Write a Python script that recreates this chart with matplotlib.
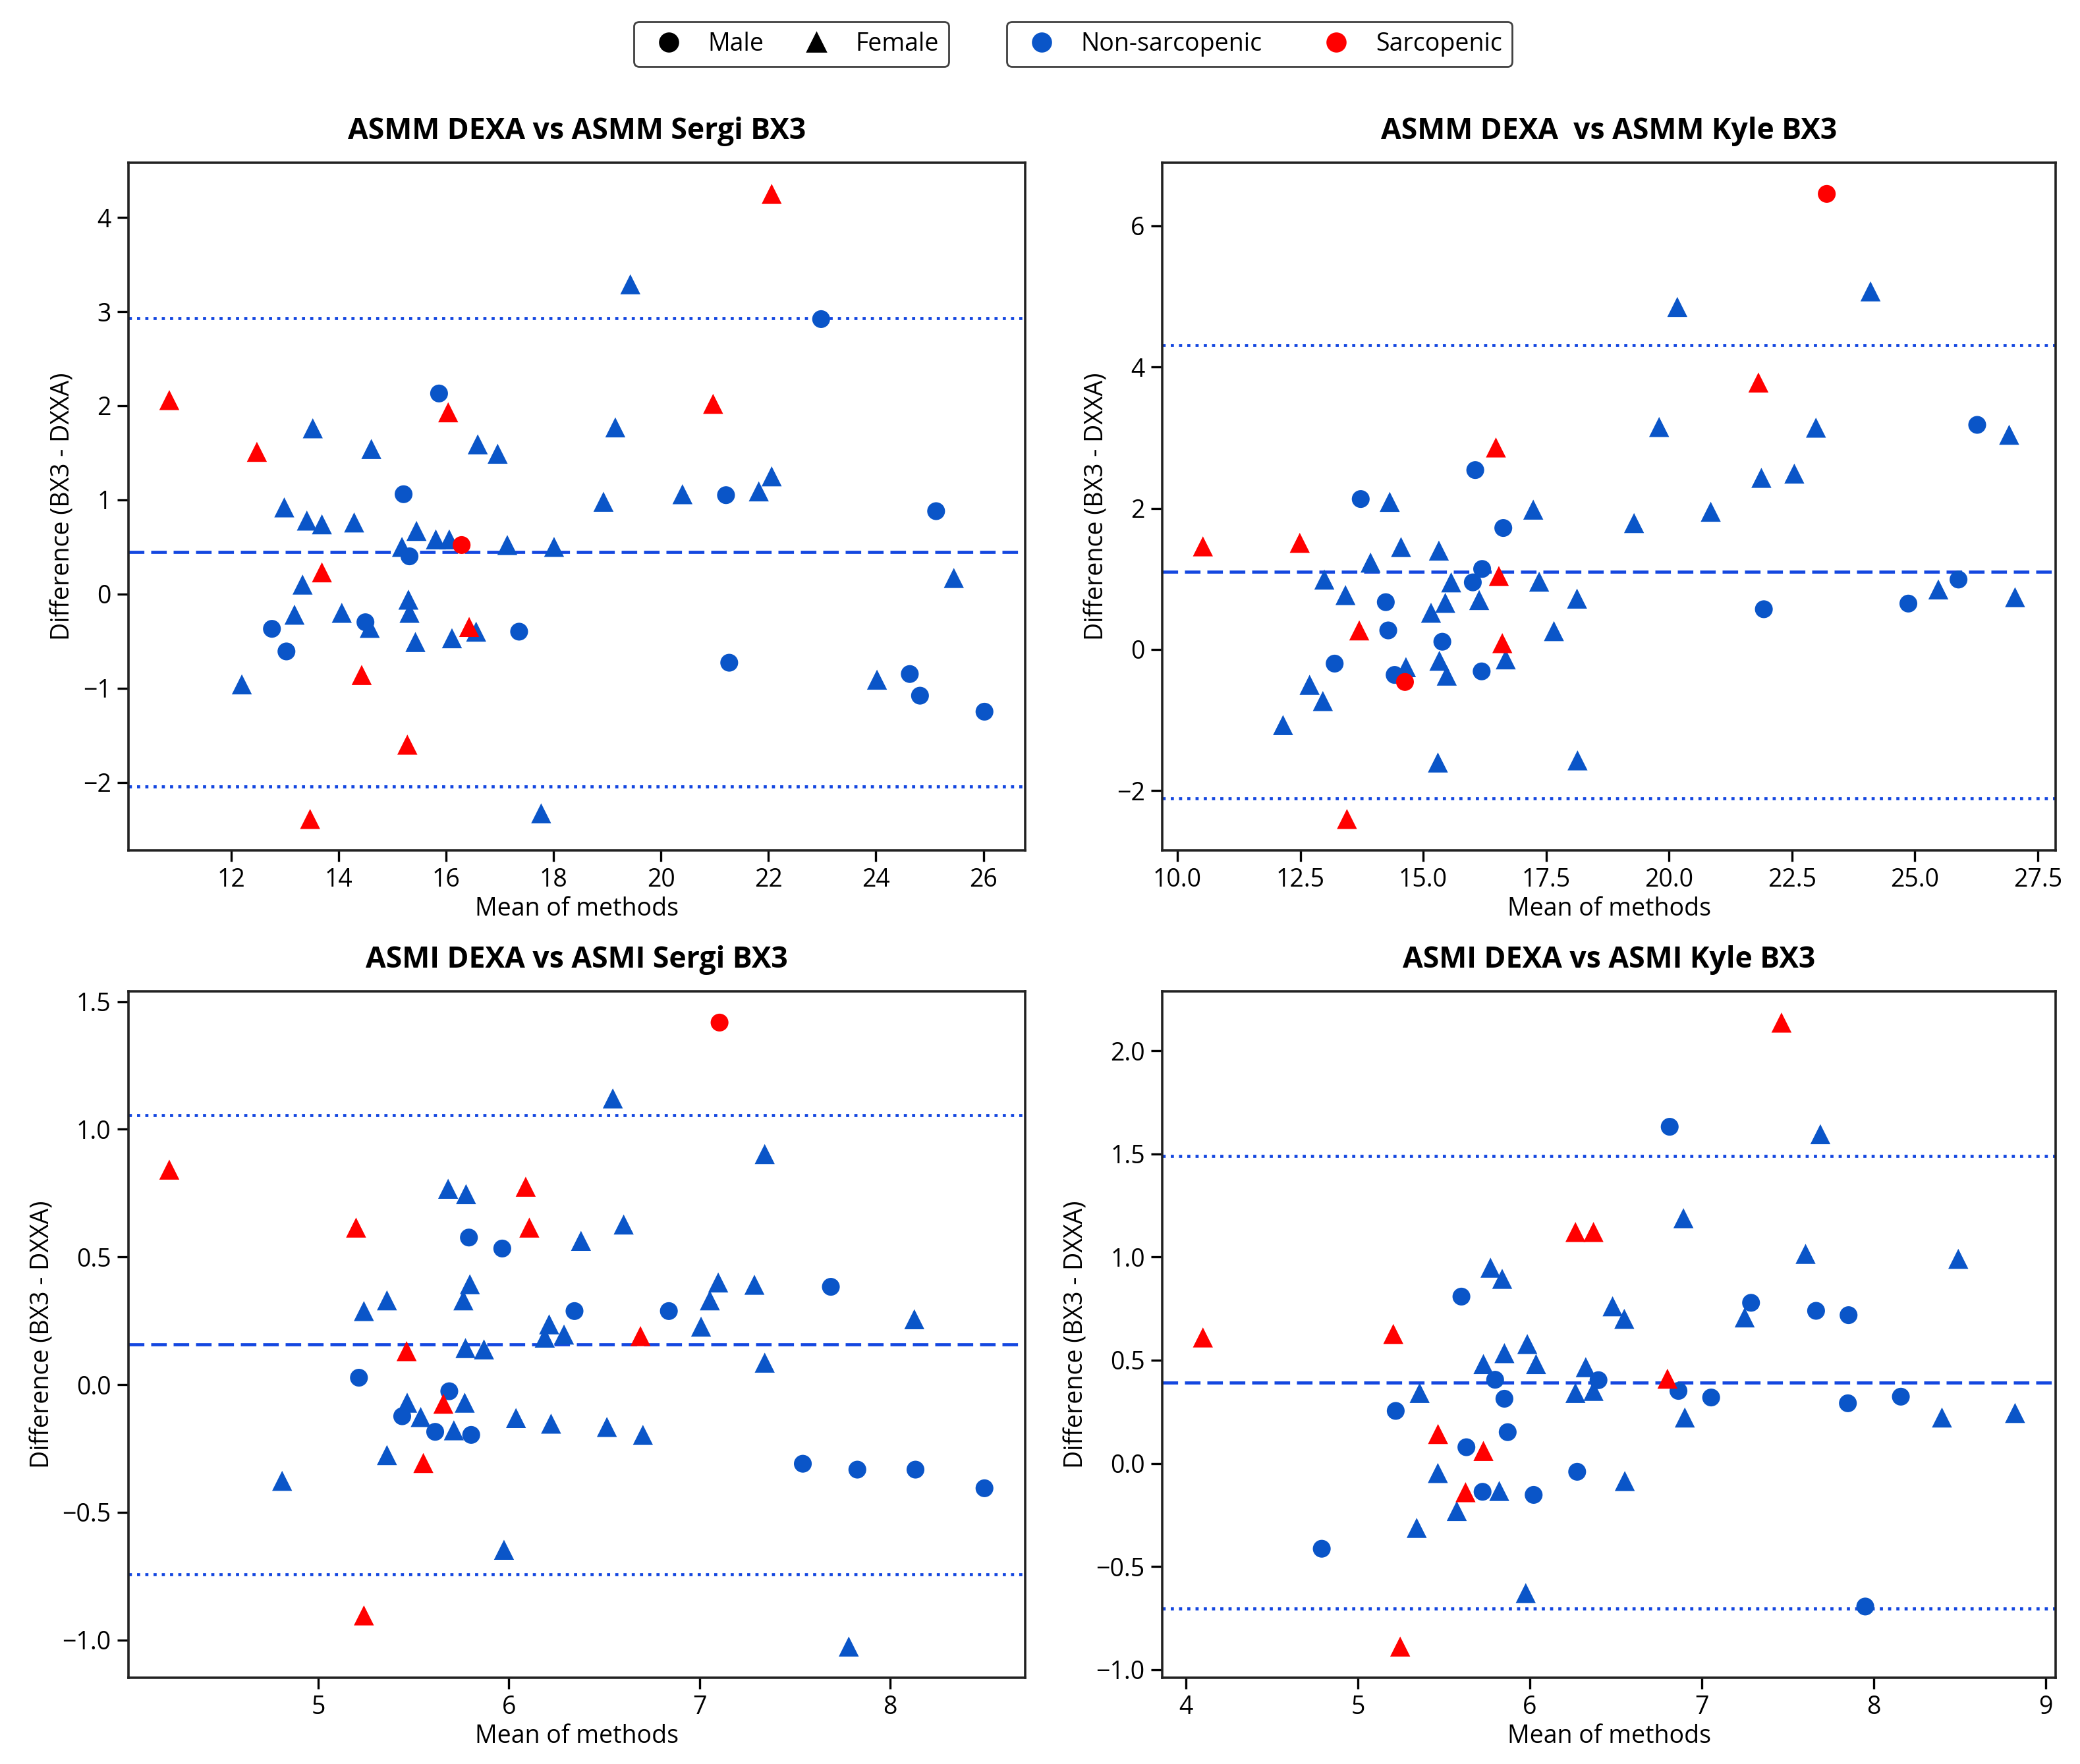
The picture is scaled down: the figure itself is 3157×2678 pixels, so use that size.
import matplotlib
matplotlib.use("Agg")
import matplotlib.pyplot as plt
from matplotlib.lines import Line2D

plt.rcParams['font.family'] = ['Open Sans', 'DejaVu Sans']

BLUE = '#0a55c8'
RED = '#ff0000'
LINE = '#1447e0'

# ---- ASMM DEXA vs ASMM Sergi BX3 ----
p1_mean = [10.85, 12.48, 16.04, 13.69, 14.43, 15.28, 13.47, 16.43, 22.06, 20.97,
           16.29,
           19.43, 13.52, 14.61, 16.59, 16.96, 19.15, 18.93, 12.99, 13.41, 13.69,
           14.29, 15.45, 15.18, 15.81, 16.06, 17.14, 18.01, 13.33, 13.18, 14.06,
           14.58, 15.30, 15.32, 15.43, 16.11, 16.56, 12.20, 17.77, 20.40, 21.82,
           22.06, 25.45, 24.02,
           15.87, 15.21, 15.32, 12.76, 13.03, 14.50, 17.36, 22.98, 21.21, 25.12,
           21.27, 24.63, 24.82, 26.02]
p1_diff = [2.06, 1.51, 1.93, 0.23, -0.86, -1.60, -2.39, -0.35, 4.25, 2.02,
           0.52,
           3.29, 1.76, 1.54, 1.59, 1.49, 1.77, 0.98, 0.92, 0.78, 0.74,
           0.76, 0.67, 0.50, 0.58, 0.58, 0.52, 0.50, 0.10, -0.22, -0.20,
           -0.36, -0.06, -0.20, -0.51, -0.47, -0.40, -0.96, -2.33, 1.06, 1.09,
           1.25, 0.17, -0.91,
           2.13, 1.06, 0.40, -0.37, -0.61, -0.30, -0.40, 2.92, 1.05, 0.88,
           -0.73, -0.85, -1.08, -1.25]
p1_sex = ['F'] * 10 + ['M'] + ['F'] * 33 + ['M'] * 14
p1_sarc = [1] * 11 + [0] * 47
p1_lines = [0.443, 2.93, -2.045]

# ---- ASMM DEXA vs ASMM Kyle BX3 ----
p2_mean = [10.52, 12.49, 13.70, 13.45, 16.48, 16.54, 16.61, 21.82,
           14.63, 23.21,
           13.73, 16.06, 16.63, 16.20, 16.01, 14.24, 14.29, 15.39, 13.20, 14.42,
           16.19, 26.27, 21.93, 24.87, 25.89,
           14.32, 17.24, 14.55, 15.32, 13.93, 12.99, 15.57, 17.36, 13.42, 15.45,
           16.14, 18.13, 15.16, 17.66, 15.33, 15.48, 14.65, 16.68, 12.69, 12.96,
           12.15, 15.30, 18.14, 24.10, 20.17, 19.80, 22.99, 26.92, 21.88, 22.55,
           20.85, 19.29, 25.48, 27.04]
p2_diff = [1.46, 1.51, 0.27, -2.40, 2.86, 1.04, 0.09, 3.78,
           -0.46, 6.45,
           2.13, 2.54, 1.72, 1.14, 0.95, 0.67, 0.27, 0.11, -0.20, -0.36,
           -0.31, 3.18, 0.57, 0.65, 0.99,
           2.09, 1.98, 1.45, 1.40, 1.23, 0.99, 0.95, 0.96, 0.77, 0.66,
           0.70, 0.72, 0.52, 0.26, -0.16, -0.37, -0.25, -0.14, -0.50, -0.73,
           -1.07, -1.60, -1.57, 5.07, 4.85, 3.15, 3.14, 3.04, 2.43, 2.49,
           1.95, 1.79, 0.85, 0.74]
p2_sex = ['F'] * 8 + ['M'] * 2 + ['M'] * 15 + ['F'] * 34
p2_sarc = [1] * 10 + [0] * 49
p2_lines = [1.10, 4.31, -2.107]

# ---- ASMI DEXA vs ASMI Sergi BX3 ----
p3_mean = [4.218, 5.198, 6.088, 6.107, 5.463, 5.656, 5.551, 5.239, 6.69,
           7.105,
           5.681, 5.775, 6.378, 5.795, 5.761, 5.360, 5.239, 6.211, 6.188, 6.289,
           5.772, 5.869, 5.466, 5.537, 5.768, 5.711, 6.037, 6.221, 5.360, 4.810,
           5.974, 6.545, 7.342, 6.602, 7.098, 7.288, 7.054, 8.127, 7.008, 7.342,
           6.514, 6.703, 7.783,
           5.965, 5.790, 6.344, 5.213, 5.687, 5.44, 5.613, 5.802, 7.689, 6.839,
           7.542, 7.828, 8.133, 8.495]
p3_diff = [0.842, 0.615, 0.775, 0.615, 0.131, -0.075, -0.307, -0.904, 0.19,
           1.418,
           0.767, 0.746, 0.563, 0.393, 0.330, 0.330, 0.288, 0.236, 0.184, 0.196,
           0.143, 0.138, -0.071, -0.127, -0.071, -0.179, -0.131, -0.153, -0.276, -0.377,
           -0.647, 1.121, 0.903, 0.627, 0.400, 0.391, 0.330, 0.256, 0.227, 0.086,
           -0.166, -0.197, -1.026,
           0.533, 0.576, 0.288, 0.027, -0.026, -0.124, -0.185, -0.197, 0.383, 0.288,
           -0.310, -0.333, -0.333, -0.406]
p3_sex = ['F'] * 9 + ['M'] + ['F'] * 33 + ['M'] * 14
p3_sarc = [1] * 10 + [0] * 47
p3_lines = [0.157, 1.056, -0.743]

# ---- ASMI DEXA vs ASMI Kyle BX3 ----
p4_mean = [4.099, 5.206, 6.265, 6.370, 5.466, 5.730, 5.626, 5.246, 7.463, 6.80,
           5.602, 5.220, 5.798, 5.852, 5.871, 5.631, 5.725, 6.275, 6.022, 4.790,
           6.399, 6.813, 7.286, 7.664, 7.853, 6.864, 7.054, 7.849, 8.157, 7.950,
           5.771, 5.839, 6.481, 5.985, 5.852, 6.036, 5.730, 6.325, 5.359, 6.265,
           6.370, 5.465, 5.822, 5.575, 5.342, 5.976, 7.689, 6.893, 7.603, 8.491,
           6.549, 7.249, 6.901, 8.396, 8.821, 6.552]
p4_diff = [0.610, 0.627, 1.121, 1.121, 0.142, 0.060, -0.140, -0.888, 2.136, 0.41,
           0.808, 0.254, 0.405, 0.313, 0.151, 0.078, -0.138, -0.041, -0.153, -0.414,
           0.403, 1.631, 0.778, 0.739, 0.718, 0.351, 0.319, 0.291, 0.323, -0.694,
           0.948, 0.894, 0.761, 0.578, 0.534, 0.481, 0.481, 0.466, 0.341, 0.341,
           0.351, -0.047, -0.134, -0.231, -0.313, -0.629, 1.595, 1.188, 1.015, 0.991,
           0.700, 0.707, 0.222, 0.222, 0.244, -0.086]
p4_sex = ['F'] * 10 + ['M'] * 20 + ['F'] * 26
p4_sarc = [1] * 10 + [0] * 46
p4_lines = [0.392, 1.489, -0.705]

titles = ["ASMM DEXA vs ASMM Sergi BX3", "ASMM DEXA  vs ASMM Kyle BX3",
          "ASMI DEXA vs ASMI Sergi BX3", "ASMI DEXA vs ASMI Kyle BX3"]
xticks = [[12, 14, 16, 18, 20, 22, 24, 26],
          [10.0, 12.5, 15.0, 17.5, 20.0, 22.5, 25.0, 27.5],
          [5, 6, 7, 8],
          [4, 5, 6, 7, 8, 9]]
yticks = [[-2, -1, 0, 1, 2, 3, 4],
          [-2, 0, 2, 4, 6],
          [-1.0, -0.5, 0.0, 0.5, 1.0, 1.5],
          [-1.0, -0.5, 0.0, 0.5, 1.0, 1.5, 2.0]]
xfmt = ['%d', '%.1f', '%d', '%d']
yfmt = ['%d', '%d', '%.1f', '%.1f']

panels = [(p1_mean, p1_diff, p1_sex, p1_sarc, p1_lines),
          (p2_mean, p2_diff, p2_sex, p2_sarc, p2_lines),
          (p3_mean, p3_diff, p3_sex, p3_sarc, p3_lines),
          (p4_mean, p4_diff, p4_sex, p4_sarc, p4_lines)]

boxes = [[0.0618, 0.518, 0.4311, 0.3898],
         [0.5588, 0.518, 0.4295, 0.3898],
         [0.0618, 0.0489, 0.4311, 0.3891],
         [0.5588, 0.0489, 0.4295, 0.3891]]

FS = 13.5
fig = plt.figure(figsize=(15.785, 13.39), dpi=200)

for i, (mx, dy, sex, sarc, lines) in enumerate(panels):
    ax = fig.add_axes(boxes[i])
    # blue (non-sarcopenic) first, red on top
    for s_flag, col in [(0, BLUE), (1, RED)]:
        for sx, mk, sz in [('M', 'o', 95), ('F', '^', 120)]:
            xs = [x for x, g, s in zip(mx, sex, sarc) if g == sx and s == s_flag]
            ys = [y for y, g, s in zip(dy, sex, sarc) if g == sx and s == s_flag]
            ax.scatter(xs, ys, marker=mk, s=sz, color=col, edgecolors='none', zorder=3)
    ax.axhline(lines[0], color=LINE, ls='--', lw=1.7, dashes=(5, 2.2), zorder=2)
    ax.axhline(lines[1], color=LINE, ls=':', lw=1.7, zorder=2)
    ax.axhline(lines[2], color=LINE, ls=':', lw=1.7, zorder=2)
    ax.set_xticks(xticks[i])
    ax.set_xticklabels([xfmt[i] % v for v in xticks[i]])
    ax.set_yticks(yticks[i])
    ax.set_yticklabels([(yfmt[i] % v).replace('-', '\u2212') for v in yticks[i]])
    ax.tick_params(labelsize=FS, length=6, width=1.2)
    for sp in ax.spines.values():
        sp.set_linewidth(1.3)
        sp.set_color('#222222')
    ax.set_title(titles[i], fontsize=16, fontweight='bold', pad=13)
    ax.set_xlabel("Mean of methods", fontsize=FS, labelpad=2)
    ax.set_ylabel("Difference (BX3 - DXXA)", fontsize=FS)

sex_handles = [Line2D([], [], ls='none', marker='o', color='black', markersize=10),
               Line2D([], [], ls='none', marker='^', color='black', markersize=10)]
leg1 = fig.legend(sex_handles, ['Male', 'Female'], ncol=2, loc='center',
                  bbox_to_anchor=(0.3805, 0.975), fontsize=FS, edgecolor='0.25',
                  handletextpad=0.6, columnspacing=1.1, framealpha=1)
sarc_handles = [Line2D([], [], ls='none', marker='o', color=BLUE, markersize=10),
                Line2D([], [], ls='none', marker='o', color=RED, markersize=10)]
leg2 = fig.legend(sarc_handles, ['Non-sarcopenic', 'Sarcopenic'], ncol=2, loc='center',
                  bbox_to_anchor=(0.6055, 0.975), fontsize=FS, edgecolor='0.25',
                  handletextpad=0.6, columnspacing=2.0, framealpha=1)

fig.savefig("out.png", dpi=200)
